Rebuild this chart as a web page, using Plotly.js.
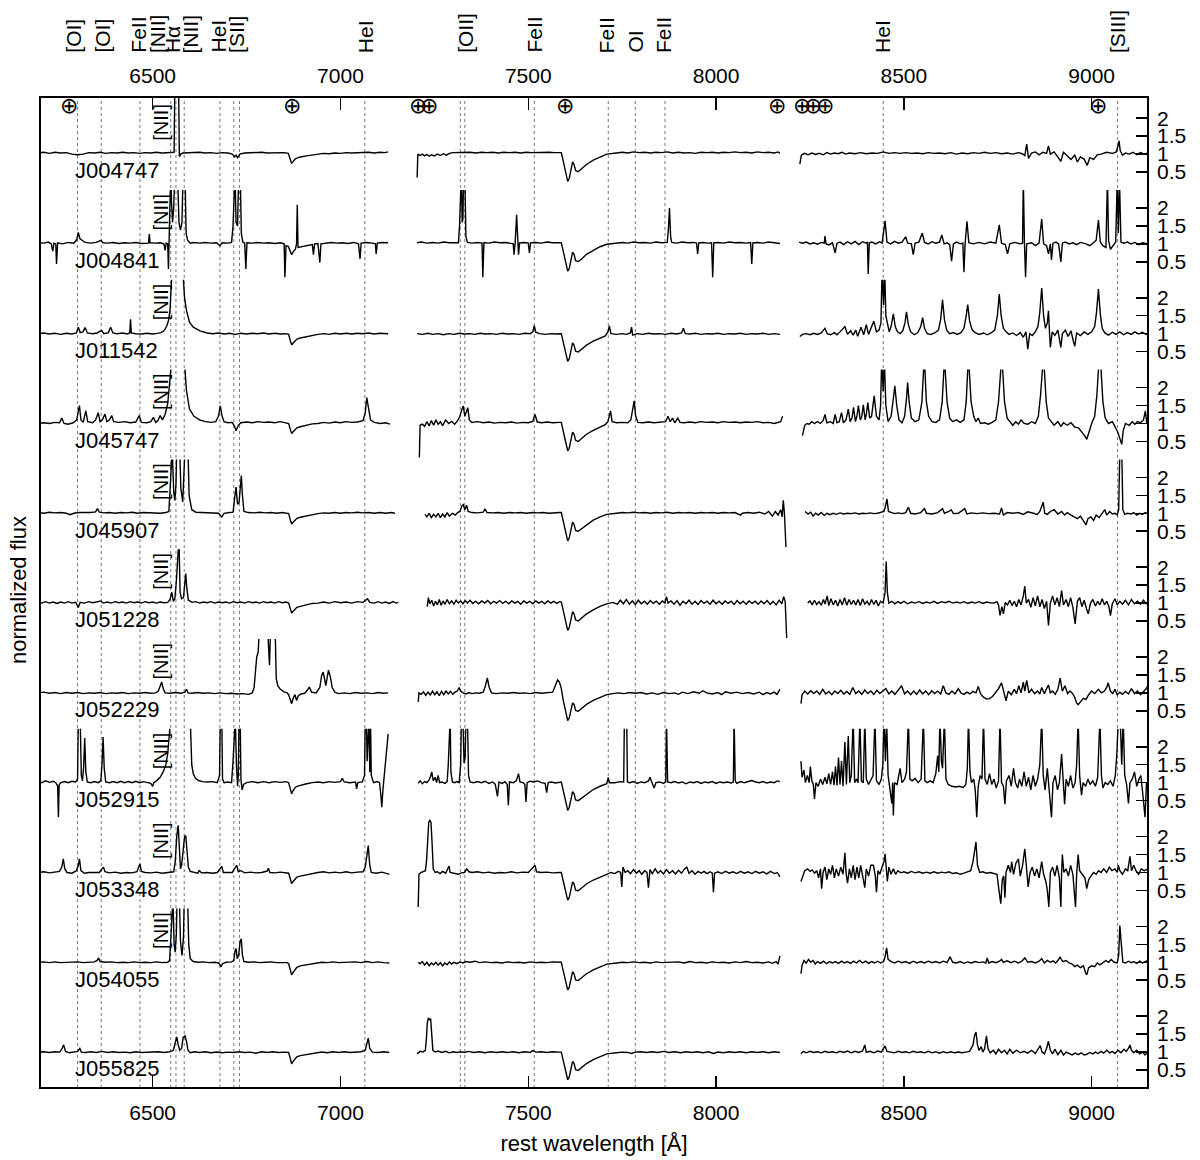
<!DOCTYPE html>
<html>
<head>
<meta charset="utf-8">
<script src="https://cdn.plot.ly/plotly-3.0.1.min.js"></script>
<style>html,body{margin:0;padding:0;background:#fff;}#chart{width:1200px;height:1160px;}</style>
</head>
<body>
<div id="chart"></div>
<script>
// ---------------- DATA ----------------
const names = ['J004747','J004841','J011542','J045747','J045907','J051228','J052229','J052915','J053348','J054055','J055825'];
const hasNII = [true,true,true,true,true,true,true,true,true,true,false];
const rightTicks = [0.5, 1, 1.5, 2];
const rightTickText = ['0.5','1','1.5','2'];
const xTicks = [6500, 7000, 7500, 8000, 8500, 9000];
const dottedWave = [6300, 6363, 6466, 6548, 6562, 6584, 6679, 6716, 6731, 7065, 7319, 7331, 7516, 7713, 7785, 7864, 8445, 9069];
const lineLabelText = ['[OI]','[OI]','FeII','[NII]','Hα','[NII]','HeI','[SII]','HeI','[OII]','FeII','FeII','OI','FeII','HeI','[SIII]'];
const lineLabelWave = [6287, 6364, 6460, 6513, 6553, 6602, 6674, 6723, 7067, 7331, 7514, 7708, 7783, 7859, 8443, 9069];
const telluricWave = [6278, 6870, 7207, 7236, 7598, 8161, 8228, 8259, 8290, 9018];

// J004747
const J004747_blue = [[6195,1.03],[6210,1.05],[6225,1.02],[6240,1.05],[6255,1.03],[6270,1.04],[6285,1.0],[6300,0.98],[6315,1.0],[6330,1.04],[6345,1.03],[6360,1.05],[6375,1.02],[6390,1.04],[6405,1.03],[6420,1.05],[6435,1.03],[6450,1.04],[6465,1.02],[6480,1.04],[6495,1.03],[6510,1.05],[6525,1.03],[6540,1.04],[6552,1.03],[6557,1.05],[6559,2.9],[6569,2.9],[6571,0.93],[6575,1.0],[6580,1.03],[6595,1.04],[6610,1.03],[6625,1.05],[6640,1.03],[6655,1.04],[6670,1.02],[6685,1.04],[6700,1.03],[6712,1.0],[6718,0.92],[6722,0.97],[6726,0.9],[6732,1.0],[6745,1.03],[6760,1.04],[6775,1.03],[6790,1.05],[6805,1.03],[6820,1.04],[6835,1.03],[6850,1.04],[6861,1.02],[6866,0.86],[6870,0.74],[6874,0.79],[6879,0.86],[6884,0.89],[6893,0.92],[6910,0.95],[6925,0.98],[6940,1.0],[6955,1.02],[6970,1.01],[6985,1.03],[7000,1.02],[7015,1.04],[7030,1.03],[7045,1.04],[7060,1.03],[7075,1.05],[7090,1.03],[7105,1.05],[7118,1.04],[7127,1.06]];
const J004747_mid = [[7204,0.35],[7206,1.0],[7212,0.96],[7218,1.0],[7224,0.95],[7230,0.99],[7236,0.94],[7242,0.98],[7250,0.95],[7258,1.0],[7266,0.96],[7274,1.01],[7282,0.97],[7290,1.02],[7300,1.04],[7315,1.05],[7330,1.04],[7345,1.05],[7360,1.03],[7375,1.05],[7390,1.04],[7405,1.05],[7420,1.03],[7435,1.05],[7450,1.04],[7465,1.05],[7480,1.03],[7495,1.05],[7510,1.04],[7525,1.05],[7540,1.04],[7555,1.05],[7570,1.04],[7584,1.05],[7588,1.04],[7593,0.81],[7598,0.57],[7602,0.32],[7605,0.24],[7609,0.32],[7613,0.57],[7618,0.78],[7622,0.71],[7626,0.54],[7633,0.51],[7642,0.59],[7655,0.71],[7673,0.83],[7691,0.92],[7709,1.0],[7735,1.03],[7750,1.05],[7765,1.03],[7780,1.06],[7795,1.04],[7810,1.05],[7825,1.03],[7840,1.05],[7855,1.04],[7870,1.06],[7885,1.03],[7900,1.05],[7915,1.03],[7930,1.04],[7945,1.02],[7960,1.05],[7975,1.04],[7990,1.05],[8005,1.03],[8020,1.05],[8035,1.04],[8050,1.06],[8065,1.04],[8080,1.05],[8095,1.03],[8110,1.06],[8125,1.04],[8140,1.05],[8155,1.03],[8165,1.06],[8170,1.02]];
const J004747_red = [[8223,0.72],[8227,0.97],[8235,1.02],[8245,0.98],[8255,1.03],[8265,0.99],[8275,1.02],[8285,0.98],[8295,1.04],[8305,1.0],[8315,1.03],[8325,1.01],[8335,1.05],[8345,1.0],[8355,1.03],[8370,1.01],[8385,1.04],[8400,1.01],[8415,1.03],[8430,1.02],[8445,1.06],[8460,1.02],[8475,1.04],[8490,1.02],[8505,1.04],[8520,1.02],[8535,1.03],[8550,1.01],[8565,1.04],[8580,1.02],[8595,1.03],[8610,1.01],[8625,1.04],[8640,1.0],[8655,1.03],[8670,1.01],[8685,1.04],[8700,1.02],[8715,1.05],[8730,1.02],[8745,1.04],[8760,1.01],[8775,1.03],[8790,1.0],[8805,1.04],[8815,1.01],[8822,0.96],[8827,1.28],[8832,0.88],[8840,1.03],[8850,1.06],[8860,0.98],[8870,1.05],[8880,1.02],[8885,1.23],[8890,1.0],[8900,1.06],[8908,0.95],[8918,0.8],[8925,1.05],[8935,0.96],[8945,0.85],[8955,0.97],[8962,0.78],[8970,0.92],[8980,0.86],[8988,0.68],[8995,0.9],[9005,0.85],[9015,0.98],[9025,1.0],[9040,1.05],[9055,1.02],[9065,1.05],[9070,1.22],[9073,1.37],[9076,1.1],[9082,0.97],[9090,1.03],[9100,1.0],[9110,1.05],[9120,0.98],[9130,1.04],[9140,1.0],[9150,1.03]];

// J004841
const J004841_blue = [[6195,1.04],[6210,1.02],[6222,1.05],[6230,1.0],[6234,0.8],[6237,1.02],[6242,1.0],[6244,0.44],[6247,1.03],[6260,1.0],[6275,1.04],[6290,1.02],[6298,1.12],[6302,1.32],[6306,1.15],[6312,1.1],[6320,1.04],[6335,1.02],[6350,1.04],[6362,1.1],[6368,1.03],[6380,1.02],[6395,1.04],[6410,1.01],[6425,1.03],[6440,1.02],[6455,1.04],[6470,1.01],[6485,1.03],[6489,1.02],[6491,1.27],[6493,1.03],[6505,1.02],[6520,1.03],[6530,1.0],[6533,0.82],[6536,1.02],[6540,1.0],[6542,0.3],[6544,1.1],[6546,1.6],[6548,3.0],[6550,2.2],[6553,1.6],[6556,2.0],[6559,3.0],[6566,3.0],[6570,1.6],[6574,1.38],[6578,1.6],[6581,3.0],[6586,3.0],[6589,1.3],[6593,1.1],[6600,1.02],[6610,1.04],[6625,1.02],[6640,1.04],[6655,1.02],[6670,1.03],[6679,0.95],[6685,1.03],[6700,1.02],[6710,1.04],[6714,1.5],[6716,3.0],[6719,3.0],[6722,1.6],[6726,1.5],[6729,3.0],[6733,3.0],[6736,1.3],[6740,1.05],[6745,1.02],[6748,0.3],[6751,1.03],[6765,1.02],[6780,1.04],[6795,1.02],[6810,1.03],[6825,1.01],[6840,1.03],[6850,1.0],[6852,0.07],[6855,0.95],[6861,0.93],[6866,0.8],[6870,0.7],[6874,0.78],[6880,0.85],[6883,1.0],[6885,2.09],[6887,0.9],[6895,0.92],[6910,0.96],[6925,0.98],[6928,0.7],[6931,1.0],[6940,1.01],[6945,0.48],[6948,1.0],[6960,1.02],[6975,1.04],[6990,1.02],[7005,1.03],[7020,1.01],[7035,1.04],[7048,1.0],[7052,0.58],[7055,1.02],[7070,1.04],[7085,1.02],[7093,1.0],[7095,0.72],[7098,1.02],[7110,1.04],[7127,1.03]];
const J004841_mid = [[7204,1.03],[7215,1.05],[7230,1.02],[7245,1.04],[7260,1.02],[7275,1.05],[7290,1.03],[7305,1.04],[7314,1.03],[7317,1.5],[7319,3.0],[7322,3.0],[7324,1.6],[7326,1.7],[7328,3.0],[7331,3.0],[7334,1.2],[7338,1.04],[7350,1.02],[7365,1.04],[7377,1.02],[7379,0.07],[7382,1.04],[7395,1.02],[7410,1.05],[7425,1.03],[7440,1.04],[7455,1.02],[7460,1.0],[7462,0.7],[7465,1.02],[7469,1.81],[7472,1.0],[7474,0.7],[7477,1.03],[7490,1.04],[7500,1.02],[7503,0.75],[7506,1.03],[7520,1.04],[7535,1.02],[7550,1.05],[7565,1.03],[7584,1.04],[7588,1.03],[7593,0.8],[7598,0.56],[7602,0.31],[7605,0.24],[7609,0.31],[7613,0.56],[7618,0.77],[7622,0.71],[7626,0.53],[7633,0.51],[7642,0.58],[7655,0.71],[7673,0.82],[7691,0.92],[7709,0.99],[7735,1.02],[7750,1.04],[7765,1.02],[7780,1.05],[7795,1.03],[7810,1.04],[7825,1.02],[7840,1.05],[7855,1.03],[7870,1.04],[7873,1.4],[7876,2.0],[7879,1.2],[7882,1.04],[7895,1.02],[7910,1.05],[7925,1.03],[7940,1.04],[7948,1.02],[7951,0.72],[7954,1.03],[7965,1.04],[7980,1.02],[7988,1.03],[7991,0.07],[7994,1.03],[8005,1.04],[8020,1.02],[8035,1.05],[8050,1.03],[8065,1.04],[8080,1.02],[8092,1.04],[8095,0.44],[8098,1.03],[8110,1.04],[8125,1.02],[8140,1.05],[8155,1.03],[8170,1.01]];
const J004841_red = [[8221,1.05],[8230,1.02],[8240,1.05],[8250,1.0],[8260,1.03],[8270,0.99],[8280,1.04],[8288,1.02],[8290,1.22],[8293,1.0],[8300,0.97],[8310,1.03],[8317,0.75],[8322,1.02],[8330,1.05],[8340,0.98],[8350,1.06],[8360,1.0],[8370,1.07],[8380,0.98],[8390,1.06],[8400,1.02],[8403,1.05],[8405,0.16],[8408,1.03],[8415,1.05],[8425,1.0],[8435,1.06],[8442,1.02],[8450,1.64],[8455,1.05],[8465,1.0],[8475,1.07],[8485,1.02],[8495,1.05],[8505,1.2],[8510,1.02],[8520,1.0],[8525,0.7],[8530,1.02],[8540,1.05],[8549,1.3],[8555,1.04],[8565,1.0],[8575,1.06],[8585,1.02],[8595,1.05],[8601,1.25],[8607,1.0],[8615,1.03],[8622,0.98],[8627,0.52],[8632,1.0],[8640,1.05],[8650,1.0],[8657,1.02],[8660,0.21],[8663,1.0],[8668,1.63],[8673,1.03],[8685,1.0],[8700,1.04],[8715,1.0],[8730,1.05],[8745,1.02],[8754,1.53],[8760,1.02],[8770,0.98],[8776,0.72],[8782,1.0],[8795,1.04],[8810,1.0],[8816,1.02],[8818,2.8],[8821,1.05],[8824,0.07],[8827,1.0],[8840,1.03],[8850,0.95],[8860,1.02],[8867,1.69],[8872,1.0],[8880,0.95],[8885,0.72],[8890,1.0],[8893,0.55],[8897,1.02],[8905,1.05],[8912,1.0],[8918,0.5],[8922,1.02],[8930,1.05],[8940,1.0],[8950,1.03],[8960,0.98],[8970,1.04],[8985,1.0],[8995,0.95],[9005,1.03],[9012,1.1],[9018,1.66],[9023,1.05],[9030,0.95],[9038,0.9],[9042,2.8],[9045,1.1],[9050,0.85],[9058,0.95],[9064,1.05],[9068,2.8],[9071,1.3],[9074,2.8],[9078,1.05],[9085,1.02],[9095,1.05],[9105,1.0],[9115,1.04],[9125,0.98],[9135,1.03],[9150,1.0]];

// J011542
const J011542_blue = [[6195,1.0],[6210,1.02],[6225,0.99],[6240,1.01],[6255,0.98],[6270,1.01],[6285,0.99],[6297,1.02],[6302,1.18],[6307,1.03],[6314,1.05],[6320,1.17],[6326,1.02],[6340,1.0],[6352,1.02],[6364,1.09],[6370,1.0],[6382,1.03],[6388,1.18],[6394,1.02],[6405,1.0],[6420,1.02],[6432,0.99],[6439,1.02],[6441,1.4],[6443,1.02],[6455,1.0],[6470,0.99],[6485,1.01],[6500,0.99],[6512,1.01],[6522,1.03],[6530,1.08],[6537,1.2],[6542,1.36],[6546,1.64],[6550,2.47],[6552,2.8],[6580,2.8],[6582,2.53],[6585,1.98],[6590,1.64],[6598,1.32],[6608,1.18],[6626,1.08],[6645,1.02],[6660,1.0],[6675,1.02],[6690,0.99],[6705,1.01],[6720,0.98],[6735,1.01],[6750,0.99],[6765,1.01],[6780,1.0],[6795,1.02],[6810,0.99],[6825,1.01],[6840,0.99],[6855,1.0],[6862,0.98],[6866,0.82],[6870,0.69],[6874,0.74],[6879,0.81],[6884,0.85],[6893,0.88],[6910,0.92],[6925,0.96],[6940,0.98],[6955,1.0],[6970,0.98],[6985,1.01],[7000,0.99],[7015,1.01],[7030,0.99],[7045,1.01],[7060,1.0],[7075,1.02],[7090,0.99],[7105,1.01],[7127,1.0]];
const J011542_mid = [[7204,1.0],[7218,0.98],[7232,1.01],[7246,0.98],[7260,1.0],[7274,0.97],[7288,1.0],[7302,0.98],[7316,1.01],[7330,0.99],[7344,1.0],[7358,0.98],[7372,1.01],[7386,0.99],[7400,1.0],[7415,0.98],[7430,1.01],[7445,0.99],[7460,1.0],[7475,0.98],[7490,1.01],[7505,1.0],[7512,1.05],[7516,1.22],[7520,1.04],[7530,1.0],[7545,0.98],[7560,1.0],[7575,0.99],[7584,1.0],[7588,1.0],[7593,0.77],[7598,0.54],[7602,0.3],[7605,0.23],[7609,0.3],[7613,0.54],[7618,0.74],[7622,0.68],[7626,0.51],[7633,0.49],[7642,0.56],[7655,0.68],[7673,0.79],[7691,0.88],[7705,0.94],[7712,1.05],[7716,1.22],[7720,1.0],[7735,0.98],[7750,1.0],[7762,0.98],[7772,1.02],[7775,1.18],[7778,0.96],[7790,1.0],[7805,0.98],[7820,1.01],[7835,0.99],[7850,1.0],[7865,0.98],[7880,1.01],[7895,0.99],[7908,1.02],[7913,1.15],[7918,1.0],[7930,0.99],[7945,1.01],[7960,0.98],[7975,1.0],[7990,0.99],[8005,1.01],[8020,0.98],[8035,1.0],[8050,0.99],[8065,1.01],[8080,0.98],[8095,1.0],[8110,0.99],[8125,1.01],[8140,0.98],[8155,1.0],[8170,0.98]];
const J011542_red = [[8223,0.92],[8230,0.98],[8240,1.0],[8250,0.97],[8260,1.01],[8270,0.98],[8280,1.02],[8290,1.15],[8296,1.0],[8305,0.97],[8315,1.03],[8322,0.97],[8330,1.05],[8343,1.2],[8350,0.98],[8358,1.08],[8365,0.96],[8372,1.1],[8377,0.93],[8386,1.18],[8393,0.97],[8400,1.25],[8406,0.98],[8413,1.15],[8420,1.35],[8427,1.05],[8434,1.1],[8439,1.3],[8442,2.8],[8446,1.8],[8449,2.8],[8452,1.5],[8457,1.2],[8461,1.05],[8466,1.2],[8472,1.55],[8477,1.2],[8483,1.05],[8490,1.0],[8497,1.08],[8503,1.3],[8507,1.61],[8512,1.25],[8518,1.05],[8528,0.97],[8537,1.03],[8545,1.2],[8550,1.45],[8555,1.15],[8562,1.0],[8572,0.98],[8582,1.02],[8592,1.1],[8598,1.4],[8603,1.94],[8608,1.4],[8614,1.1],[8622,1.0],[8632,1.03],[8642,0.98],[8652,1.03],[8660,1.15],[8666,1.5],[8670,1.81],[8675,1.35],[8682,1.1],[8690,1.03],[8700,0.98],[8712,1.02],[8722,0.97],[8732,1.02],[8742,1.1],[8749,1.5],[8754,2.1],[8759,1.5],[8765,1.15],[8772,1.05],[8780,0.98],[8790,1.02],[8800,0.95],[8810,1.03],[8818,0.9],[8825,1.05],[8830,0.57],[8835,1.0],[8842,0.95],[8850,1.05],[8857,1.2],[8862,1.6],[8867,2.27],[8872,1.5],[8877,1.15],[8882,1.3],[8885,1.64],[8888,1.0],[8890,0.62],[8895,1.05],[8902,0.95],[8910,1.1],[8915,0.85],[8918,0.62],[8922,1.0],[8930,1.1],[8937,0.92],[8945,1.08],[8951,0.8],[8955,0.65],[8960,1.02],[8970,0.95],[8980,1.05],[8990,0.98],[9000,1.05],[9008,1.2],[9013,1.6],[9018,2.24],[9023,1.55],[9028,1.15],[9035,1.02],[9045,0.96],[9055,1.04],[9065,0.98],[9075,1.05],[9085,0.97],[9095,1.03],[9105,0.98],[9115,1.05],[9125,0.99],[9135,1.04],[9145,0.98],[9150,1.02]];

// J045747
const J045747_blue = [[6195,1.0],[6210,1.02],[6225,1.0],[6240,1.03],[6252,1.02],[6258,1.15],[6264,1.0],[6275,0.98],[6288,1.02],[6298,1.1],[6302,1.35],[6305,1.5],[6309,1.1],[6315,1.03],[6322,1.35],[6327,1.05],[6340,1.02],[6348,1.1],[6355,1.3],[6360,1.05],[6366,1.1],[6373,1.26],[6378,1.05],[6385,1.1],[6391,1.22],[6396,1.05],[6410,1.03],[6425,1.05],[6440,1.02],[6455,1.04],[6464,1.22],[6470,1.03],[6485,1.02],[6495,1.05],[6502,1.17],[6508,1.03],[6514,1.08],[6520,1.22],[6526,1.1],[6533,1.25],[6540,1.55],[6545,2.0],[6549,2.53],[6551,2.8],[6584,2.8],[6586,2.53],[6590,1.91],[6598,1.4],[6610,1.2],[6625,1.1],[6640,1.05],[6655,1.03],[6668,1.05],[6675,1.2],[6680,1.49],[6685,1.2],[6690,1.05],[6700,1.02],[6712,1.03],[6718,0.92],[6722,0.8],[6728,0.95],[6735,1.02],[6750,1.04],[6765,1.02],[6780,1.05],[6795,1.03],[6810,1.04],[6825,1.02],[6840,1.05],[6855,1.03],[6862,1.0],[6866,0.85],[6870,0.72],[6874,0.77],[6879,0.84],[6884,0.88],[6893,0.91],[6910,0.95],[6925,0.99],[6940,1.0],[6955,1.03],[6970,1.01],[6985,1.04],[7000,1.02],[7015,1.05],[7030,1.03],[7045,1.04],[7060,1.08],[7066,1.3],[7070,1.72],[7074,1.45],[7080,1.1],[7090,1.03],[7105,1.0],[7120,1.02],[7132,0.98]];
const J045747_mid = [[7210,0.05],[7212,0.95],[7218,0.98],[7224,0.92],[7230,1.05],[7236,0.93],[7242,1.08],[7248,0.95],[7254,1.1],[7260,0.98],[7266,1.05],[7272,0.94],[7280,1.1],[7288,1.0],[7296,1.06],[7304,0.98],[7312,1.08],[7318,1.2],[7323,1.38],[7327,1.49],[7331,1.2],[7335,1.3],[7339,1.44],[7343,1.1],[7350,1.03],[7365,1.05],[7380,1.02],[7395,1.04],[7410,1.01],[7425,1.03],[7440,1.02],[7455,1.04],[7470,1.01],[7485,1.03],[7500,1.02],[7512,1.06],[7518,1.25],[7524,1.04],[7535,1.02],[7550,1.04],[7565,1.02],[7584,1.03],[7588,1.03],[7593,0.79],[7598,0.56],[7602,0.31],[7605,0.24],[7609,0.31],[7613,0.56],[7618,0.76],[7622,0.7],[7626,0.53],[7633,0.5],[7642,0.58],[7655,0.7],[7673,0.81],[7691,0.91],[7705,0.97],[7712,1.05],[7716,1.2],[7719,1.35],[7723,1.05],[7735,1.02],[7750,1.03],[7765,1.02],[7773,1.1],[7778,1.35],[7782,1.63],[7786,1.2],[7792,1.03],[7805,1.02],[7820,1.04],[7835,1.02],[7850,1.04],[7866,1.05],[7872,1.2],[7878,1.05],[7884,1.15],[7890,1.02],[7898,1.15],[7904,1.03],[7915,1.02],[7930,1.04],[7945,1.02],[7960,1.05],[7975,1.03],[7990,1.04],[8005,1.02],[8020,1.05],[8035,1.03],[8050,1.04],[8065,1.02],[8080,1.04],[8095,1.03],[8110,1.05],[8125,1.02],[8140,1.03],[8155,1.0],[8165,1.02],[8172,1.05],[8177,1.2]];
const J045747_red = [[8230,0.66],[8236,0.95],[8242,1.0],[8248,0.98],[8255,1.05],[8262,1.0],[8270,1.05],[8278,1.0],[8285,1.08],[8290,1.25],[8295,1.02],[8305,1.05],[8312,1.0],[8317,1.25],[8322,1.02],[8328,1.05],[8334,1.3],[8339,1.02],[8346,1.1],[8352,1.4],[8357,1.05],[8362,1.15],[8366,1.45],[8371,1.05],[8375,1.2],[8379,1.5],[8384,1.1],[8388,1.2],[8392,1.52],[8397,1.1],[8400,1.25],[8404,1.58],[8409,1.15],[8414,1.2],[8421,1.77],[8427,1.2],[8434,1.1],[8438,1.5],[8441,2.8],[8445,1.9],[8448,2.8],[8452,1.5],[8458,1.05],[8466,1.2],[8472,1.7],[8476,2.05],[8481,1.5],[8487,1.1],[8495,1.02],[8502,1.2],[8507,1.7],[8510,2.14],[8514,1.6],[8520,1.15],[8530,1.05],[8540,1.1],[8548,1.6],[8552,2.5],[8554,2.8],[8556,2.5],[8560,1.6],[8566,1.2],[8575,1.05],[8585,1.03],[8595,1.1],[8602,1.6],[8606,2.5],[8608,2.8],[8610,2.5],[8615,1.6],[8622,1.15],[8630,1.05],[8640,1.1],[8650,1.03],[8660,1.1],[8666,1.6],[8670,2.5],[8672,2.8],[8674,2.5],[8679,1.6],[8686,1.2],[8692,1.05],[8698,1.15],[8704,1.0],[8715,1.02],[8725,0.98],[8735,1.03],[8745,1.1],[8752,1.6],[8757,2.5],[8760,2.8],[8763,2.5],[8768,1.6],[8775,1.15],[8782,1.05],[8790,0.95],[8798,1.05],[8805,0.98],[8812,1.1],[8820,1.0],[8830,0.98],[8840,1.05],[8850,1.0],[8858,1.2],[8864,1.8],[8868,2.5],[8871,2.8],[8874,2.5],[8879,1.6],[8885,1.15],[8892,1.05],[8900,0.95],[8910,1.05],[8918,0.92],[8925,1.02],[8935,0.95],[8945,1.02],[8955,0.9],[8965,0.88],[8975,0.75],[8982,0.65],[8987,0.56],[8993,0.8],[9000,1.0],[9008,1.2],[9014,1.8],[9018,2.5],[9022,2.8],[9025,2.5],[9030,1.6],[9036,1.15],[9045,1.0],[9055,1.05],[9062,0.9],[9070,0.75],[9076,0.55],[9080,0.42],[9084,0.8],[9090,1.0],[9100,0.95],[9108,1.05],[9115,0.98],[9122,1.05],[9130,1.02],[9138,1.1],[9143,1.35],[9147,1.0],[9150,1.05]];

// J045907
const J045907_blue = [[6195,1.02],[6210,1.0],[6225,1.03],[6240,1.01],[6255,1.02],[6270,1.0],[6280,0.96],[6290,1.0],[6305,1.02],[6320,1.01],[6335,1.02],[6348,1.04],[6353,1.13],[6358,1.03],[6370,1.01],[6385,1.02],[6400,1.0],[6415,1.02],[6430,1.01],[6445,1.03],[6460,1.0],[6475,1.02],[6490,1.01],[6505,1.02],[6520,1.0],[6535,1.02],[6543,1.05],[6546,1.6],[6548,2.8],[6552,2.8],[6556,1.6],[6559,1.36],[6562,1.8],[6564,2.8],[6572,2.8],[6575,1.7],[6580,1.32],[6584,2.0],[6586,2.8],[6594,2.8],[6597,1.5],[6604,1.1],[6615,1.03],[6630,1.02],[6645,1.01],[6660,1.02],[6675,1.0],[6684,0.9],[6690,1.0],[6705,1.02],[6714,1.03],[6718,1.4],[6722,1.73],[6726,1.25],[6730,1.3],[6734,1.8],[6736,2.05],[6739,1.5],[6743,1.05],[6755,1.02],[6770,1.01],[6785,1.03],[6800,1.01],[6815,1.02],[6830,1.0],[6845,1.02],[6858,1.01],[6862,0.99],[6866,0.83],[6870,0.7],[6874,0.75],[6879,0.82],[6884,0.86],[6893,0.89],[6910,0.93],[6925,0.97],[6940,0.99],[6955,1.01],[6970,1.0],[6985,1.02],[7000,1.0],[7015,1.02],[7030,1.01],[7045,1.03],[7060,1.01],[7075,1.02],[7090,1.0],[7105,1.02],[7120,1.0],[7135,1.02],[7145,1.0]];
const J045907_mid = [[7225,0.97],[7230,0.9],[7236,1.0],[7242,0.88],[7248,0.97],[7254,0.9],[7260,1.0],[7266,0.88],[7272,0.98],[7278,0.9],[7284,1.02],[7290,0.92],[7298,1.0],[7306,0.95],[7312,1.02],[7318,1.05],[7323,1.2],[7327,1.24],[7331,1.1],[7336,1.22],[7340,1.05],[7350,1.02],[7365,1.01],[7380,1.03],[7385,1.12],[7390,1.02],[7405,1.01],[7420,1.02],[7435,1.0],[7450,1.02],[7465,1.01],[7480,1.02],[7495,1.0],[7510,1.02],[7525,1.01],[7540,1.02],[7555,1.0],[7570,1.02],[7584,1.02],[7588,1.02],[7593,0.79],[7598,0.55],[7602,0.31],[7605,0.23],[7609,0.31],[7613,0.55],[7618,0.75],[7622,0.69],[7626,0.52],[7633,0.5],[7642,0.57],[7655,0.69],[7673,0.81],[7691,0.9],[7709,0.97],[7735,1.0],[7750,1.02],[7765,1.01],[7780,1.03],[7795,1.01],[7810,1.02],[7825,1.0],[7840,1.02],[7855,1.01],[7870,1.03],[7885,1.0],[7900,1.02],[7915,1.01],[7930,1.02],[7945,1.0],[7960,1.02],[7975,1.01],[7990,1.02],[8005,1.0],[8020,1.02],[8035,1.01],[8050,1.02],[8065,0.95],[8070,1.0],[8085,1.02],[8100,1.0],[8115,1.03],[8130,0.98],[8140,1.05],[8150,0.92],[8158,1.05],[8165,0.95],[8172,1.1],[8176,0.9],[8179,1.36],[8182,1.0],[8186,0.06]];
const J045907_red = [[8237,1.05],[8245,0.98],[8252,1.03],[8258,0.92],[8265,1.0],[8272,0.95],[8280,1.02],[8288,0.94],[8295,1.0],[8303,0.96],[8312,1.0],[8320,0.97],[8330,1.01],[8340,0.98],[8350,1.0],[8360,0.99],[8370,1.01],[8380,0.98],[8390,1.0],[8400,0.99],[8410,1.01],[8420,0.99],[8430,1.0],[8440,1.02],[8447,1.05],[8451,1.2],[8455,1.4],[8459,1.05],[8465,1.02],[8475,0.99],[8485,1.01],[8495,0.99],[8505,1.02],[8512,1.17],[8518,1.0],[8530,0.98],[8545,1.02],[8555,1.13],[8560,1.0],[8575,0.98],[8590,1.02],[8603,1.13],[8608,1.0],[8620,1.05],[8626,1.1],[8632,0.99],[8645,1.0],[8662,1.13],[8668,0.98],[8680,1.01],[8695,0.99],[8710,1.01],[8725,0.99],[8740,1.0],[8755,0.98],[8760,1.15],[8765,0.95],[8775,1.02],[8790,1.0],[8805,1.02],[8818,0.97],[8830,1.04],[8845,1.0],[8855,0.97],[8862,1.05],[8868,1.2],[8871,1.31],[8875,1.0],[8882,0.97],[8890,1.05],[8900,1.1],[8910,0.98],[8920,1.05],[8928,0.95],[8935,1.02],[8945,0.95],[8955,0.9],[8962,0.85],[8970,0.92],[8978,0.8],[8985,0.68],[8990,0.85],[8998,0.9],[9005,0.8],[9012,0.95],[9020,0.88],[9028,1.0],[9035,1.1],[9040,0.95],[9048,1.05],[9055,0.98],[9062,1.0],[9068,0.95],[9072,1.1],[9075,2.8],[9080,2.8],[9083,1.1],[9088,0.97],[9095,1.0],[9105,0.98],[9112,1.02],[9120,0.95],[9128,1.0],[9135,0.97],[9143,1.02],[9150,0.98]];

// J051228
const J051228_blue = [[6195,1.02],[6205,1.0],[6215,1.04],[6225,1.0],[6235,1.03],[6245,0.99],[6255,1.03],[6265,1.0],[6275,1.04],[6285,1.0],[6295,1.02],[6302,0.88],[6307,1.02],[6318,1.0],[6330,1.04],[6340,1.01],[6350,1.03],[6362,1.06],[6368,1.0],[6380,1.03],[6390,1.0],[6400,1.04],[6410,1.01],[6420,1.03],[6430,1.0],[6440,1.04],[6450,1.01],[6460,1.03],[6470,1.0],[6480,1.04],[6490,1.01],[6500,1.03],[6510,1.0],[6520,1.03],[6530,1.01],[6540,1.02],[6546,1.1],[6551,1.3],[6555,1.05],[6559,1.12],[6563,1.6],[6566,2.8],[6570,2.8],[6573,1.3],[6577,1.12],[6582,1.15],[6586,1.6],[6588,1.82],[6591,1.4],[6595,1.08],[6605,1.02],[6615,1.04],[6625,1.0],[6635,1.03],[6645,1.01],[6655,1.04],[6665,1.0],[6675,1.03],[6685,1.01],[6695,1.03],[6705,1.0],[6715,1.04],[6725,1.01],[6735,1.03],[6745,1.0],[6755,1.04],[6765,1.01],[6775,1.03],[6785,1.0],[6795,1.04],[6805,1.01],[6815,1.03],[6825,1.0],[6835,1.04],[6845,1.01],[6855,1.03],[6862,1.0],[6866,0.85],[6870,0.72],[6874,0.77],[6879,0.84],[6884,0.88],[6893,0.91],[6910,0.95],[6925,0.99],[6940,1.0],[6955,1.03],[6970,1.0],[6985,1.04],[7000,1.01],[7015,1.03],[7030,1.0],[7045,1.04],[7060,1.02],[7068,1.08],[7072,1.12],[7078,1.02],[7090,1.0],[7100,1.04],[7110,1.0],[7120,1.03],[7130,0.99],[7140,1.04],[7148,1.0],[7154,1.02]];
const J051228_mid = [[7231,0.9],[7234,1.15],[7238,0.98],[7243,1.08],[7248,0.92],[7253,1.05],[7258,0.95],[7263,1.1],[7268,0.94],[7273,1.06],[7278,0.96],[7284,1.1],[7290,0.98],[7296,1.06],[7302,0.97],[7308,1.08],[7314,1.0],[7320,1.06],[7326,0.98],[7332,1.07],[7338,1.0],[7345,1.08],[7352,0.99],[7360,1.05],[7368,0.98],[7376,1.06],[7384,1.0],[7392,1.07],[7400,0.98],[7408,1.05],[7416,1.0],[7424,1.07],[7432,0.99],[7440,1.05],[7448,0.98],[7456,1.06],[7464,1.0],[7472,1.05],[7480,0.97],[7488,1.06],[7496,1.0],[7504,1.05],[7512,0.98],[7520,1.06],[7528,1.0],[7536,1.05],[7544,0.98],[7552,1.06],[7560,1.0],[7568,1.05],[7576,0.99],[7584,1.04],[7588,1.03],[7593,0.79],[7598,0.56],[7602,0.31],[7605,0.24],[7609,0.31],[7613,0.56],[7618,0.76],[7622,0.7],[7626,0.53],[7633,0.5],[7642,0.58],[7655,0.7],[7673,0.81],[7691,0.91],[7709,0.98],[7725,1.02],[7737,0.97],[7745,1.08],[7753,0.98],[7761,1.1],[7769,0.97],[7777,1.06],[7785,0.96],[7793,1.08],[7801,0.98],[7809,1.05],[7817,0.97],[7825,1.07],[7833,0.99],[7841,1.05],[7849,0.97],[7857,1.06],[7864,1.0],[7868,1.18],[7872,1.0],[7880,1.06],[7888,0.97],[7896,1.07],[7904,0.94],[7912,1.05],[7920,0.98],[7928,1.08],[7936,0.97],[7944,1.05],[7952,0.96],[7960,1.07],[7968,0.99],[7976,1.05],[7984,0.97],[7992,1.08],[8000,0.98],[8008,1.05],[8016,0.97],[8024,1.06],[8032,0.99],[8040,1.05],[8048,0.96],[8056,1.07],[8064,0.98],[8072,1.05],[8080,0.97],[8088,1.06],[8096,0.99],[8104,1.05],[8112,0.97],[8120,1.06],[8128,0.98],[8136,1.07],[8144,0.96],[8152,1.05],[8160,0.95],[8168,1.08],[8175,0.98],[8180,1.18],[8184,1.05],[8188,0.03]];
const J051228_red = [[8244,1.0],[8250,1.06],[8256,0.95],[8262,1.08],[8268,0.96],[8274,1.04],[8280,0.94],[8286,1.1],[8290,0.97],[8296,1.2],[8300,0.93],[8306,1.12],[8312,0.95],[8318,1.08],[8324,0.92],[8330,1.1],[8336,0.95],[8342,1.15],[8348,0.94],[8354,1.1],[8360,0.96],[8366,1.08],[8372,0.95],[8378,1.1],[8384,0.93],[8390,1.12],[8396,0.97],[8402,1.05],[8408,0.94],[8414,1.1],[8420,0.96],[8426,1.08],[8432,0.92],[8438,1.05],[8445,1.0],[8450,1.3],[8453,2.16],[8456,1.3],[8460,1.0],[8468,1.05],[8476,0.98],[8484,1.04],[8492,0.99],[8500,1.05],[8510,0.98],[8520,1.03],[8530,1.0],[8540,1.04],[8550,0.99],[8560,1.03],[8570,1.0],[8580,1.05],[8590,0.99],[8600,1.04],[8610,1.01],[8620,1.05],[8630,1.0],[8640,1.03],[8650,1.0],[8660,1.04],[8670,0.99],[8680,1.03],[8690,1.0],[8700,1.04],[8710,0.99],[8720,1.03],[8730,1.01],[8740,1.0],[8748,1.04],[8752,0.95],[8756,0.66],[8761,0.9],[8765,0.7],[8770,1.02],[8776,0.95],[8782,1.08],[8788,0.93],[8794,1.05],[8800,0.9],[8806,1.1],[8812,0.95],[8818,1.2],[8822,1.47],[8826,1.0],[8832,1.1],[8838,0.88],[8844,1.15],[8850,0.92],[8856,1.2],[8862,0.9],[8868,1.1],[8874,0.85],[8880,1.05],[8885,0.38],[8890,1.0],[8896,1.2],[8902,0.95],[8908,1.15],[8914,0.9],[8920,1.35],[8925,0.95],[8932,1.1],[8938,0.9],[8944,1.15],[8950,0.88],[8956,0.42],[8962,1.05],[8968,1.15],[8974,0.9],[8980,1.08],[8986,0.85],[8991,0.7],[8997,1.0],[9003,1.1],[9010,0.92],[9016,1.05],[9022,0.95],[9028,1.12],[9034,0.95],[9040,1.05],[9046,0.9],[9050,0.65],[9055,0.98],[9062,1.12],[9068,0.95],[9075,1.05],[9082,0.97],[9090,1.08],[9098,0.95],[9106,1.1],[9114,0.98],[9122,1.05],[9130,0.97],[9138,1.08],[9145,0.98],[9150,1.03]];

// J052229
const J052229_blue = [[6195,1.0],[6210,1.02],[6225,0.99],[6240,1.01],[6255,0.98],[6270,1.01],[6285,0.99],[6300,1.01],[6315,0.98],[6330,1.0],[6345,0.99],[6360,1.01],[6375,0.98],[6390,1.0],[6405,0.99],[6420,1.01],[6435,0.98],[6450,1.0],[6465,0.99],[6480,1.01],[6495,0.99],[6508,1.0],[6515,1.05],[6520,1.22],[6524,1.3],[6528,1.12],[6533,1.0],[6545,0.99],[6560,1.01],[6575,0.99],[6586,1.02],[6590,1.1],[6594,1.0],[6605,0.99],[6620,1.01],[6635,0.99],[6650,1.0],[6665,0.98],[6680,1.0],[6695,0.98],[6710,0.99],[6725,0.97],[6740,0.98],[6755,0.96],[6765,1.0],[6770,1.15],[6773,1.6],[6777,2.0],[6781,2.14],[6784,2.8],[6806,2.8],[6809,1.95],[6811,1.77],[6814,2.8],[6826,2.8],[6829,1.4],[6833,1.2],[6840,1.1],[6850,1.03],[6858,1.0],[6862,0.95],[6866,0.82],[6870,0.7],[6874,0.85],[6879,0.95],[6883,0.79],[6888,0.92],[6895,0.97],[6905,0.99],[6912,1.08],[6917,1.16],[6923,1.02],[6935,1.0],[6945,1.15],[6950,1.49],[6954,1.58],[6958,1.35],[6961,1.2],[6965,1.45],[6968,1.63],[6973,1.45],[6978,1.15],[6985,1.02],[6995,0.98],[7010,1.0],[7025,0.98],[7040,1.01],[7055,0.99],[7070,1.0],[7085,0.98],[7100,1.01],[7115,0.99],[7127,1.0]];
const J052229_mid = [[7207,0.75],[7209,1.0],[7215,0.96],[7221,1.03],[7227,0.93],[7233,1.02],[7239,0.94],[7245,1.05],[7251,0.95],[7257,1.03],[7263,0.92],[7269,1.04],[7275,0.95],[7281,1.05],[7287,0.97],[7293,1.04],[7299,0.96],[7305,1.02],[7311,1.05],[7316,1.15],[7320,1.05],[7326,1.0],[7334,0.97],[7342,1.01],[7350,0.98],[7360,1.0],[7370,0.99],[7380,1.02],[7386,1.2],[7391,1.42],[7396,1.15],[7402,1.0],[7415,0.98],[7430,1.0],[7445,0.99],[7460,1.01],[7475,0.99],[7490,1.0],[7505,0.98],[7520,1.01],[7535,0.99],[7550,1.0],[7565,1.02],[7572,1.2],[7578,1.36],[7583,1.3],[7588,1.12],[7593,0.8],[7598,0.55],[7602,0.3],[7605,0.23],[7609,0.3],[7613,0.54],[7618,0.72],[7622,0.68],[7626,0.51],[7633,0.49],[7642,0.56],[7655,0.68],[7673,0.79],[7691,0.88],[7709,0.95],[7725,0.98],[7740,1.0],[7755,0.98],[7770,1.01],[7785,0.99],[7800,1.01],[7815,0.97],[7830,1.0],[7845,0.96],[7860,1.01],[7875,0.98],[7890,1.0],[7900,0.96],[7910,1.02],[7925,0.98],[7940,1.03],[7955,0.99],[7965,1.06],[7975,1.0],[7990,0.97],[8005,1.01],[8015,0.95],[8025,1.03],[8040,0.99],[8055,1.02],[8070,0.98],[8085,1.01],[8100,0.97],[8115,1.02],[8125,0.95],[8135,1.01],[8145,0.97],[8155,1.02],[8162,0.96],[8170,1.1]];
const J052229_red = [[8226,0.7],[8229,0.95],[8236,1.05],[8244,0.97],[8252,1.06],[8260,0.98],[8268,1.05],[8276,0.96],[8284,1.1],[8292,0.97],[8300,1.04],[8308,0.95],[8316,1.05],[8324,0.98],[8332,1.07],[8340,0.97],[8348,1.04],[8356,0.96],[8364,1.15],[8372,0.98],[8380,1.05],[8388,0.96],[8396,1.08],[8404,0.98],[8412,1.05],[8420,0.96],[8428,1.07],[8436,0.98],[8444,1.05],[8452,1.12],[8460,0.97],[8468,1.05],[8476,0.96],[8484,1.08],[8494,1.2],[8502,0.97],[8510,1.05],[8518,0.95],[8526,1.05],[8534,0.96],[8542,1.08],[8550,0.97],[8558,1.05],[8566,0.95],[8574,1.06],[8582,0.98],[8590,1.05],[8598,0.97],[8605,1.2],[8612,1.0],[8620,0.96],[8628,1.05],[8636,0.97],[8645,1.12],[8652,1.0],[8660,0.96],[8668,1.02],[8676,0.97],[8684,1.04],[8692,1.0],[8698,1.18],[8704,0.98],[8712,0.88],[8720,0.83],[8728,0.84],[8736,0.9],[8744,1.02],[8752,1.12],[8760,1.28],[8766,1.0],[8772,0.78],[8778,1.05],[8786,0.95],[8794,1.1],[8800,0.98],[8806,1.2],[8812,1.0],[8818,1.3],[8822,1.05],[8827,1.35],[8833,1.0],[8840,1.1],[8848,0.98],[8856,1.05],[8862,0.97],[8867,1.15],[8874,0.98],[8880,1.12],[8885,1.22],[8890,1.0],[8896,1.05],[8903,0.96],[8910,1.1],[8916,1.41],[8922,1.05],[8929,1.2],[8936,0.98],[8942,1.05],[8948,1.0],[8954,0.9],[8960,0.72],[8964,0.67],[8970,0.75],[8978,0.85],[8985,0.82],[8992,0.95],[9000,1.05],[9008,0.98],[9018,1.1],[9026,1.0],[9034,1.05],[9040,1.15],[9044,1.28],[9050,1.05],[9056,0.98],[9062,1.1],[9068,0.95],[9075,1.02],[9082,0.96],[9090,1.04],[9098,0.97],[9106,1.12],[9114,0.98],[9122,1.05],[9130,0.95],[9138,1.03],[9144,1.1],[9150,1.2]];

// J052915
const J052915_blue = [[6195,1.03],[6205,1.0],[6215,1.05],[6225,1.01],[6235,1.04],[6242,1.0],[6247,0.9],[6249,0.04],[6251,0.95],[6256,1.0],[6265,1.03],[6275,1.0],[6285,1.04],[6295,1.02],[6300,1.1],[6302,2.8],[6307,2.8],[6310,1.2],[6313,1.05],[6316,1.4],[6319,2.24],[6322,1.3],[6326,1.02],[6335,1.0],[6345,1.03],[6355,1.0],[6362,1.05],[6365,1.5],[6368,2.27],[6371,1.4],[6375,1.02],[6385,1.0],[6395,1.03],[6405,1.0],[6415,1.04],[6425,1.0],[6435,1.03],[6445,1.0],[6455,1.04],[6465,1.0],[6475,1.03],[6485,1.0],[6495,0.98],[6500,0.9],[6503,1.0],[6510,1.05],[6520,1.15],[6528,1.3],[6535,1.5],[6540,1.8],[6545,2.3],[6548,2.8],[6600,2.8],[6604,1.5],[6608,1.25],[6614,1.12],[6622,1.06],[6632,1.03],[6645,1.02],[6660,1.03],[6672,1.0],[6678,1.2],[6680,2.8],[6684,2.8],[6686,1.1],[6690,1.0],[6700,1.02],[6710,1.0],[6714,1.6],[6716,2.8],[6720,2.8],[6723,1.5],[6726,0.9],[6728,1.2],[6730,2.8],[6733,2.8],[6735,1.1],[6738,0.8],[6742,0.95],[6750,1.0],[6765,1.03],[6780,1.0],[6795,1.03],[6810,1.0],[6825,1.03],[6840,1.01],[6855,1.03],[6862,1.0],[6866,0.85],[6870,0.69],[6874,0.78],[6879,0.86],[6884,0.9],[6893,0.93],[6910,0.97],[6925,1.0],[6940,1.02],[6955,1.0],[6970,1.03],[6985,1.01],[7000,1.03],[7005,1.12],[7010,1.02],[7025,1.0],[7040,1.02],[7043,0.83],[7046,1.0],[7058,1.02],[7064,1.2],[7066,2.8],[7069,2.8],[7071,1.6],[7073,2.8],[7076,2.8],[7078,1.3],[7080,2.8],[7082,1.2],[7088,1.0],[7098,1.03],[7104,1.0],[7108,0.6],[7110,0.32],[7113,0.8],[7118,1.3],[7124,2.0],[7127,2.36]];
const J052915_mid = [[7207,0.98],[7212,1.05],[7218,0.97],[7224,1.03],[7230,1.0],[7236,1.08],[7240,1.18],[7243,1.3],[7247,1.05],[7252,1.15],[7256,1.0],[7260,1.2],[7264,1.0],[7270,1.02],[7278,0.98],[7284,1.03],[7287,1.5],[7289,2.8],[7292,2.8],[7294,1.3],[7298,1.02],[7304,1.0],[7310,1.03],[7316,1.0],[7320,1.5],[7322,2.8],[7326,2.8],[7329,1.55],[7332,1.7],[7334,2.8],[7338,2.8],[7341,1.2],[7345,1.02],[7355,1.0],[7365,1.03],[7375,1.0],[7385,1.04],[7395,0.98],[7405,1.02],[7412,0.96],[7418,0.62],[7422,1.02],[7430,0.98],[7438,1.03],[7444,0.95],[7447,0.37],[7450,1.02],[7460,1.0],[7468,1.05],[7474,1.25],[7478,1.02],[7486,1.0],[7491,0.95],[7494,0.46],[7497,1.0],[7505,1.04],[7515,1.02],[7525,1.05],[7535,1.0],[7545,0.98],[7549,0.72],[7553,1.0],[7562,1.02],[7572,0.99],[7584,1.02],[7588,1.02],[7593,0.79],[7598,0.55],[7602,0.31],[7605,0.23],[7609,0.31],[7613,0.55],[7618,0.75],[7622,0.69],[7626,0.52],[7633,0.5],[7642,0.57],[7655,0.69],[7673,0.81],[7691,0.9],[7709,0.97],[7713,1.15],[7716,1.0],[7730,1.0],[7745,1.03],[7754,1.02],[7756,2.8],[7762,2.8],[7764,1.02],[7770,1.0],[7780,1.03],[7790,0.98],[7800,1.02],[7810,1.0],[7820,1.05],[7824,1.15],[7828,1.02],[7835,0.85],[7840,1.0],[7850,1.02],[7860,0.98],[7866,1.02],[7868,2.8],[7871,1.02],[7880,1.0],[7890,1.03],[7900,0.99],[7910,1.02],[7920,0.97],[7930,1.02],[7940,1.0],[7950,1.03],[7960,0.98],[7970,1.02],[7980,1.0],[7990,1.03],[8000,0.98],[8010,1.02],[8020,1.0],[8030,1.02],[8040,0.99],[8046,1.02],[8048,2.8],[8051,1.05],[8055,0.98],[8065,1.03],[8075,1.0],[8085,1.04],[8095,1.06],[8105,1.02],[8115,1.0],[8125,1.03],[8135,0.99],[8145,1.02],[8155,1.0],[8163,1.05],[8170,1.03]];
const J052915_red = [[8226,1.6],[8229,1.15],[8234,1.35],[8238,1.0],[8243,1.2],[8248,1.0],[8251,1.45],[8255,1.05],[8259,0.95],[8262,0.55],[8266,1.0],[8272,0.9],[8278,1.1],[8284,0.95],[8290,1.15],[8295,0.97],[8300,1.25],[8305,0.95],[8310,1.3],[8314,0.93],[8318,1.45],[8322,0.92],[8326,1.7],[8330,0.95],[8334,1.6],[8338,0.9],[8343,2.13],[8347,0.95],[8352,2.3],[8356,1.0],[8360,1.2],[8365,2.8],[8369,1.0],[8374,1.1],[8378,1.0],[8383,2.8],[8387,1.05],[8392,1.0],[8396,2.8],[8400,1.1],[8406,0.95],[8412,1.1],[8418,1.2],[8423,2.8],[8427,1.05],[8434,0.95],[8440,1.1],[8444,1.5],[8447,2.8],[8451,1.6],[8454,2.8],[8458,1.2],[8463,0.85],[8468,0.42],[8470,1.0],[8472,0.09],[8475,1.0],[8482,0.95],[8490,1.4],[8495,1.0],[8502,1.1],[8507,1.3],[8512,2.8],[8516,1.1],[8522,1.05],[8530,1.12],[8538,1.0],[8546,1.1],[8552,2.8],[8556,1.05],[8562,1.0],[8570,1.05],[8578,1.0],[8585,1.25],[8590,1.75],[8593,1.3],[8596,2.8],[8600,1.6],[8603,1.4],[8608,2.8],[8612,1.1],[8618,0.95],[8628,0.9],[8638,0.88],[8648,0.9],[8658,0.87],[8665,0.95],[8669,1.4],[8672,2.8],[8676,1.3],[8680,1.0],[8686,1.1],[8690,0.8],[8694,0.04],[8698,0.9],[8703,1.2],[8708,1.1],[8712,2.8],[8716,1.1],[8722,0.95],[8728,1.25],[8734,0.95],[8740,1.1],[8746,0.85],[8752,1.05],[8756,2.8],[8760,1.0],[8765,0.9],[8769,0.4],[8773,1.05],[8780,1.2],[8786,0.9],[8792,1.4],[8797,1.0],[8803,0.85],[8808,1.1],[8814,0.9],[8820,1.3],[8826,0.9],[8832,1.15],[8838,0.8],[8844,1.2],[8850,0.9],[8856,1.1],[8862,1.5],[8867,2.8],[8871,1.2],[8876,0.8],[8882,1.4],[8886,0.85],[8890,0.3],[8893,0.04],[8897,1.0],[8903,1.2],[8909,0.8],[8914,1.0],[8920,1.8],[8924,0.9],[8928,0.4],[8932,1.1],[8938,0.9],[8944,1.2],[8950,0.85],[8956,1.0],[8960,1.5],[8964,2.8],[8968,1.2],[8973,0.65],[8977,1.0],[8984,0.9],[8990,1.1],[8996,0.95],[9003,1.05],[9010,0.9],[9016,1.15],[9022,2.8],[9026,1.2],[9030,0.85],[9036,1.0],[9043,0.95],[9050,1.05],[9057,0.9],[9063,1.2],[9067,1.8],[9071,2.8],[9076,2.8],[9080,1.5],[9084,2.8],[9088,1.2],[9093,0.95],[9098,0.42],[9102,1.0],[9108,1.1],[9114,1.3],[9120,0.9],[9126,1.1],[9131,1.2],[9136,0.7],[9142,0.04],[9146,1.0],[9150,1.0]];

// J053348
const J053348_blue = [[6195,1.0],[6210,1.02],[6225,0.99],[6240,1.01],[6252,1.03],[6258,1.15],[6262,1.38],[6266,1.1],[6272,1.0],[6285,0.98],[6297,1.05],[6302,1.2],[6305,1.38],[6309,1.05],[6318,0.98],[6330,1.0],[6345,1.01],[6358,1.0],[6365,1.1],[6369,1.15],[6373,1.02],[6385,0.99],[6400,1.01],[6415,0.98],[6430,1.0],[6445,0.99],[6458,1.02],[6463,1.15],[6466,1.24],[6470,1.03],[6480,1.0],[6495,0.99],[6510,1.01],[6525,0.98],[6540,1.0],[6550,1.0],[6556,1.02],[6560,1.3],[6564,2.0],[6568,2.31],[6571,1.6],[6574,1.1],[6577,1.2],[6581,1.7],[6585,2.0],[6588,2.03],[6591,1.6],[6595,1.15],[6600,1.03],[6610,1.0],[6620,0.98],[6624,1.05],[6630,0.99],[6645,1.0],[6660,0.98],[6672,1.0],[6680,1.1],[6684,1.17],[6688,1.0],[6700,0.99],[6712,1.0],[6716,1.08],[6720,1.15],[6724,1.2],[6728,1.02],[6735,1.05],[6745,0.99],[6760,1.01],[6775,0.99],[6790,1.0],[6805,1.04],[6808,1.12],[6812,1.0],[6825,0.99],[6840,1.01],[6855,0.99],[6862,0.98],[6866,0.84],[6870,0.69],[6874,0.75],[6879,0.82],[6884,0.87],[6893,0.9],[6910,0.94],[6925,0.98],[6940,1.0],[6955,1.02],[6970,0.99],[6985,1.01],[7000,0.99],[7015,1.02],[7030,0.99],[7045,1.01],[7060,1.02],[7066,1.15],[7070,1.5],[7074,1.75],[7078,1.2],[7082,1.0],[7095,0.98],[7110,1.01],[7125,0.97],[7130,0.95]];
const J053348_mid = [[7207,0.04],[7209,0.95],[7214,1.0],[7220,1.02],[7226,1.05],[7229,1.3],[7232,2.0],[7235,2.4],[7238,2.45],[7241,2.4],[7244,1.8],[7247,1.1],[7252,1.0],[7258,1.02],[7265,0.97],[7272,1.03],[7280,0.98],[7286,1.1],[7289,1.18],[7292,1.0],[7300,0.98],[7308,0.96],[7314,0.95],[7322,0.99],[7330,1.0],[7336,1.1],[7342,1.02],[7350,1.0],[7365,1.02],[7380,0.99],[7395,1.01],[7410,0.98],[7425,1.0],[7440,0.99],[7455,1.02],[7470,0.99],[7485,1.01],[7500,1.0],[7508,1.1],[7513,1.15],[7518,1.2],[7522,1.02],[7535,1.0],[7550,1.01],[7565,0.99],[7584,1.0],[7588,1.0],[7593,0.77],[7598,0.54],[7602,0.3],[7605,0.23],[7609,0.3],[7613,0.54],[7618,0.74],[7622,0.68],[7626,0.51],[7633,0.49],[7642,0.56],[7655,0.68],[7673,0.79],[7691,0.88],[7709,0.95],[7720,1.0],[7730,0.97],[7740,1.03],[7746,1.0],[7749,0.6],[7752,1.15],[7758,1.0],[7765,1.05],[7772,0.97],[7780,1.08],[7788,0.98],[7795,1.05],[7802,0.95],[7810,1.05],[7816,1.0],[7820,0.58],[7824,1.08],[7830,0.97],[7838,1.1],[7845,0.98],[7852,1.05],[7860,0.96],[7868,1.08],[7876,0.98],[7884,1.05],[7892,0.96],[7900,1.06],[7908,0.98],[7916,1.1],[7922,1.15],[7928,0.98],[7936,1.05],[7944,0.95],[7952,1.03],[7960,0.98],[7968,1.03],[7976,0.97],[7984,1.02],[7990,0.98],[7993,0.45],[7996,0.98],[8005,1.02],[8015,0.97],[8025,1.03],[8035,0.98],[8045,1.02],[8055,0.97],[8065,1.03],[8075,0.98],[8085,1.02],[8095,0.97],[8105,1.03],[8115,0.98],[8125,1.02],[8135,0.96],[8145,1.03],[8155,0.97],[8163,1.0],[8170,0.88]];
const J053348_red = [[8226,0.75],[8230,0.9],[8236,1.05],[8244,1.1],[8250,1.03],[8256,1.07],[8262,0.98],[8268,1.05],[8273,0.85],[8278,1.1],[8281,0.55],[8285,1.0],[8290,1.15],[8295,0.8],[8300,1.1],[8305,0.95],[8310,1.2],[8315,0.85],[8320,1.1],[8326,0.9],[8332,1.15],[8338,0.95],[8343,1.55],[8346,1.0],[8350,0.7],[8355,1.1],[8360,0.85],[8365,1.2],[8370,0.8],[8375,1.15],[8380,0.85],[8385,1.2],[8390,0.9],[8396,0.58],[8400,1.1],[8406,0.9],[8412,1.2],[8419,1.2],[8424,0.9],[8427,0.45],[8431,1.05],[8436,0.95],[8442,1.15],[8447,1.3],[8450,1.52],[8453,1.1],[8456,0.75],[8460,1.15],[8466,0.95],[8472,1.1],[8478,0.95],[8484,1.05],[8492,0.99],[8500,1.02],[8510,0.98],[8520,1.03],[8530,0.99],[8540,1.02],[8550,0.98],[8560,1.01],[8570,0.98],[8580,1.02],[8590,0.98],[8600,1.01],[8610,0.99],[8620,1.02],[8630,0.97],[8640,0.99],[8650,0.95],[8660,0.98],[8670,1.02],[8678,1.05],[8684,1.3],[8688,1.55],[8692,1.85],[8696,1.2],[8702,1.0],[8710,1.02],[8720,0.98],[8730,1.0],[8740,0.97],[8748,0.95],[8752,0.6],[8756,0.3],[8758,0.13],[8762,0.8],[8766,0.9],[8769,0.3],[8772,1.0],[8778,1.2],[8784,1.0],[8787,1.3],[8792,0.95],[8798,1.25],[8805,1.38],[8810,0.9],[8816,1.2],[8822,1.66],[8827,0.95],[8831,0.6],[8836,1.0],[8842,1.15],[8848,0.9],[8854,1.1],[8860,0.85],[8867,1.3],[8872,0.95],[8878,0.75],[8882,0.5],[8886,0.04],[8890,1.0],[8896,1.15],[8902,0.9],[8908,1.2],[8914,0.85],[8918,0.04],[8920,1.0],[8922,1.5],[8926,1.0],[8932,1.1],[8938,0.9],[8944,1.2],[8950,0.95],[8954,0.5],[8957,0.04],[8960,0.95],[8964,1.5],[8968,1.05],[8975,0.95],[8982,0.85],[8987,0.55],[8992,0.8],[8998,0.9],[9005,1.0],[9012,0.95],[9018,1.05],[9025,1.0],[9032,1.1],[9040,1.0],[9047,1.15],[9054,1.05],[9062,1.1],[9068,1.0],[9071,1.2],[9075,1.05],[9082,0.95],[9090,1.1],[9096,1.05],[9102,1.45],[9106,1.05],[9112,1.2],[9118,1.05],[9125,0.95],[9132,1.1],[9140,1.05],[9150,1.1]];

// J054055
const J054055_blue = [[6195,1.0],[6210,1.01],[6225,0.99],[6240,1.01],[6255,0.99],[6270,1.0],[6285,0.99],[6300,1.01],[6315,0.99],[6330,1.0],[6345,1.01],[6352,1.05],[6356,1.12],[6360,1.02],[6375,1.0],[6390,1.01],[6405,0.99],[6420,1.0],[6435,0.99],[6450,1.01],[6465,0.99],[6480,1.0],[6495,0.99],[6510,1.01],[6525,0.99],[6540,1.0],[6545,1.05],[6548,1.6],[6550,2.8],[6554,2.8],[6557,1.5],[6560,1.28],[6563,1.8],[6565,2.8],[6571,2.8],[6574,1.6],[6578,1.19],[6582,1.7],[6584,2.8],[6593,2.8],[6596,1.5],[6600,1.1],[6608,1.02],[6620,1.0],[6635,1.01],[6650,0.99],[6665,1.0],[6676,0.98],[6682,0.88],[6686,0.96],[6695,1.0],[6710,1.01],[6716,1.05],[6719,1.3],[6722,1.38],[6725,1.1],[6729,1.2],[6733,1.6],[6736,1.65],[6739,1.2],[6743,1.02],[6755,1.0],[6770,1.01],[6785,0.99],[6800,1.0],[6815,1.01],[6830,0.99],[6845,1.0],[6858,0.99],[6862,0.96],[6866,0.82],[6870,0.65],[6874,0.72],[6879,0.8],[6884,0.86],[6893,0.9],[6908,0.93],[6923,0.96],[6938,0.98],[6950,1.0],[6965,0.99],[6980,1.01],[6995,0.99],[7010,1.0],[7025,0.99],[7040,1.01],[7055,0.99],[7070,1.02],[7085,0.99],[7100,1.01],[7115,0.99],[7130,0.98]];
const J054055_mid = [[7207,1.0],[7212,0.96],[7218,1.02],[7224,0.92],[7230,1.0],[7236,0.9],[7242,0.98],[7248,0.93],[7254,1.0],[7260,0.92],[7266,0.99],[7272,0.9],[7278,0.98],[7284,0.93],[7290,1.01],[7296,0.95],[7302,1.0],[7310,0.96],[7318,1.01],[7326,0.98],[7334,1.02],[7345,1.0],[7358,1.03],[7370,0.99],[7385,1.01],[7400,0.99],[7415,1.0],[7430,0.98],[7445,1.01],[7460,0.99],[7475,1.0],[7490,0.98],[7505,1.01],[7520,0.99],[7535,1.0],[7550,0.99],[7565,1.01],[7584,1.0],[7588,1.0],[7593,0.77],[7598,0.54],[7602,0.3],[7605,0.23],[7609,0.3],[7613,0.54],[7618,0.74],[7622,0.68],[7626,0.51],[7633,0.49],[7642,0.56],[7655,0.68],[7673,0.79],[7691,0.88],[7709,0.95],[7735,0.98],[7750,1.0],[7765,0.99],[7780,1.01],[7795,0.99],[7810,1.0],[7825,0.98],[7840,1.01],[7855,0.99],[7870,1.0],[7885,0.99],[7900,1.01],[7915,0.98],[7930,1.02],[7945,0.99],[7960,1.0],[7975,0.98],[7990,1.01],[8005,0.99],[8020,1.0],[8035,0.98],[8050,1.01],[8065,0.99],[8080,1.02],[8095,0.99],[8110,1.0],[8125,0.98],[8140,1.01],[8150,0.97],[8160,1.02],[8165,0.95],[8170,1.18]];
const J054055_red = [[8226,0.68],[8229,0.92],[8234,1.05],[8240,0.98],[8246,1.08],[8252,1.0],[8258,1.05],[8264,0.95],[8270,1.02],[8278,0.97],[8286,1.03],[8294,0.96],[8302,1.02],[8310,0.98],[8318,1.02],[8326,0.97],[8334,1.03],[8342,0.98],[8350,1.02],[8358,0.97],[8366,1.03],[8374,0.98],[8382,1.05],[8390,0.98],[8398,1.03],[8406,0.97],[8414,1.02],[8422,0.98],[8430,1.03],[8438,0.98],[8446,1.02],[8450,1.15],[8454,1.4],[8458,1.08],[8466,1.02],[8475,0.98],[8485,1.03],[8495,0.99],[8505,1.02],[8515,0.97],[8525,1.03],[8535,0.98],[8545,1.02],[8555,0.98],[8565,1.03],[8575,0.99],[8585,1.02],[8595,0.98],[8605,1.03],[8615,0.99],[8623,1.15],[8630,1.0],[8640,0.98],[8650,1.02],[8660,0.97],[8670,1.01],[8680,0.98],[8690,1.02],[8700,0.99],[8710,1.01],[8718,0.98],[8722,1.12],[8726,0.98],[8735,1.02],[8745,0.99],[8755,1.03],[8760,1.08],[8765,1.0],[8775,1.04],[8785,0.99],[8795,1.03],[8805,0.98],[8815,1.04],[8822,1.12],[8830,1.0],[8840,1.02],[8850,0.98],[8860,1.03],[8867,1.1],[8874,0.98],[8882,1.05],[8890,1.0],[8897,1.04],[8904,0.98],[8910,1.05],[8916,1.14],[8923,1.02],[8932,1.05],[8940,0.98],[8948,0.95],[8955,0.88],[8962,0.92],[8970,0.85],[8978,0.9],[8984,0.7],[8987,0.65],[8992,0.85],[9000,0.9],[9008,0.88],[9015,0.98],[9022,0.93],[9030,1.0],[9038,1.05],[9045,1.0],[9052,1.08],[9060,1.0],[9068,0.98],[9072,1.2],[9075,2.02],[9079,1.5],[9083,1.0],[9090,0.98],[9098,1.03],[9105,0.99],[9112,1.02],[9120,0.97],[9128,1.03],[9135,0.98],[9142,1.02],[9150,1.05]];

// J055825
const J055825_blue = [[6195,1.0],[6210,1.01],[6225,0.99],[6240,1.01],[6252,1.0],[6258,1.08],[6263,1.2],[6268,1.02],[6278,0.98],[6290,1.0],[6300,1.02],[6306,1.1],[6310,1.0],[6322,0.99],[6335,1.01],[6350,0.99],[6365,1.02],[6380,0.99],[6395,1.01],[6410,0.99],[6425,1.0],[6440,0.98],[6455,1.01],[6470,0.99],[6485,1.0],[6500,0.99],[6515,1.01],[6530,0.99],[6545,1.01],[6555,1.05],[6560,1.3],[6564,1.42],[6568,1.2],[6572,1.05],[6577,1.1],[6581,1.4],[6586,1.45],[6590,1.3],[6594,1.05],[6600,0.98],[6612,1.01],[6625,0.99],[6640,1.01],[6655,0.98],[6670,1.0],[6685,0.98],[6700,1.0],[6715,0.99],[6730,1.01],[6745,0.99],[6760,1.0],[6775,0.97],[6790,1.01],[6805,0.99],[6820,1.01],[6835,0.99],[6850,1.0],[6862,0.99],[6866,0.84],[6870,0.67],[6874,0.74],[6879,0.82],[6884,0.87],[6893,0.9],[6908,0.93],[6923,0.96],[6938,0.98],[6950,1.0],[6965,0.98],[6980,1.01],[6995,0.99],[7010,1.01],[7025,0.99],[7040,1.0],[7055,1.01],[7066,1.05],[7070,1.2],[7074,1.39],[7078,1.1],[7085,1.0],[7100,0.99],[7115,1.01],[7130,0.99]];
const J055825_mid = [[7204,0.95],[7212,1.02],[7220,1.0],[7226,1.05],[7229,1.4],[7231,1.8],[7234,1.95],[7237,1.9],[7240,1.93],[7243,1.4],[7246,1.05],[7252,1.0],[7260,1.03],[7270,0.99],[7280,1.02],[7290,0.98],[7300,1.01],[7310,0.99],[7320,1.01],[7330,0.99],[7340,1.02],[7355,0.99],[7370,1.01],[7385,0.98],[7400,1.01],[7415,0.99],[7430,1.01],[7445,0.99],[7460,1.01],[7475,0.98],[7490,1.01],[7505,0.99],[7512,1.04],[7520,1.0],[7535,1.01],[7550,0.99],[7565,1.01],[7584,1.0],[7588,1.0],[7593,0.77],[7598,0.54],[7602,0.3],[7605,0.23],[7609,0.3],[7613,0.54],[7618,0.74],[7622,0.68],[7626,0.51],[7633,0.49],[7642,0.56],[7655,0.68],[7673,0.79],[7691,0.88],[7709,0.95],[7735,0.98],[7750,1.0],[7765,0.99],[7775,0.96],[7785,1.0],[7800,1.01],[7815,0.99],[7830,1.01],[7845,0.99],[7860,1.02],[7875,0.99],[7890,1.01],[7905,0.98],[7920,1.01],[7935,0.99],[7950,1.01],[7965,0.98],[7980,1.01],[7993,0.96],[8005,1.0],[8020,0.98],[8035,1.01],[8050,0.99],[8065,1.01],[8080,0.98],[8095,1.01],[8110,0.99],[8125,1.01],[8140,0.98],[8155,1.01],[8170,0.99]];
const J055825_red = [[8226,0.95],[8232,1.02],[8240,0.98],[8250,1.02],[8260,0.99],[8270,1.01],[8280,0.98],[8290,1.02],[8300,0.99],[8310,1.01],[8320,0.98],[8330,1.02],[8340,0.99],[8350,1.03],[8360,0.98],[8370,1.02],[8380,0.99],[8390,1.03],[8396,1.2],[8400,0.99],[8410,1.02],[8420,0.98],[8430,1.03],[8440,1.0],[8450,1.17],[8455,1.02],[8465,1.0],[8475,0.98],[8485,1.02],[8495,0.99],[8505,1.01],[8515,0.98],[8525,1.02],[8535,0.99],[8545,1.01],[8555,0.98],[8565,1.02],[8575,0.98],[8585,1.01],[8595,0.97],[8605,1.01],[8615,0.98],[8625,1.01],[8635,0.98],[8645,1.0],[8655,0.98],[8665,1.0],[8675,1.02],[8684,1.2],[8688,1.45],[8692,1.56],[8696,1.2],[8700,1.05],[8706,1.15],[8710,1.0],[8715,1.1],[8720,1.45],[8724,1.1],[8730,0.98],[8738,1.05],[8745,0.95],[8752,1.08],[8760,0.98],[8768,1.05],[8775,0.95],[8782,1.08],[8790,0.97],[8800,1.05],[8810,0.98],[8820,1.02],[8830,0.97],[8840,1.05],[8850,0.96],[8858,1.1],[8863,1.18],[8868,1.0],[8874,0.95],[8880,1.1],[8885,1.3],[8890,1.05],[8896,0.95],[8902,1.08],[8910,0.93],[8918,1.05],[8925,0.92],[8932,1.0],[8940,0.96],[8948,0.92],[8956,0.97],[8964,0.93],[8972,0.98],[8980,0.92],[8987,0.94],[8995,0.99],[9003,0.95],[9010,1.0],[9018,0.96],[9025,1.02],[9032,0.97],[9040,1.05],[9048,0.98],[9055,1.02],[9062,0.96],[9070,1.05],[9078,0.98],[9086,1.08],[9092,1.02],[9098,1.1],[9102,1.2],[9106,1.05],[9112,0.98],[9120,1.05],[9128,0.95],[9136,1.0],[9142,0.92],[9150,1.0]];

const spectra = [
  [J004747_blue, J004747_mid, J004747_red],
  [J004841_blue, J004841_mid, J004841_red],
  [J011542_blue, J011542_mid, J011542_red],
  [J045747_blue, J045747_mid, J045747_red],
  [J045907_blue, J045907_mid, J045907_red],
  [J051228_blue, J051228_mid, J051228_red],
  [J052229_blue, J052229_mid, J052229_red],
  [J052915_blue, J052915_mid, J052915_red],
  [J053348_blue, J053348_mid, J053348_red],
  [J054055_blue, J054055_mid, J054055_red],
  [J055825_blue, J055825_mid, J055825_red]
];

// ---------------- BUILD ----------------
const FONT = 'Liberation Sans, Arial, Helvetica, sans-serif';
const N = names.length;
const PLOT_H = 991;         // px height of plotting area
const BAND_PX = 89.8;       // px per spectrum band
const h = BAND_PX / PLOT_H; // domain fraction per band
const bandRange = 2.5;
const topRange = 2.5 * (1 - 10 * h) / h;

function axId(k){ const n = k + 1; return n === 1 ? '' : String(n); }

const traces = [];
spectra.forEach((segs, k) => {
  const x = [], y = [];
  segs.forEach((s, i) => {
    if (i) { x.push(null); y.push(null); }
    s.forEach(p => { x.push(p[0]); y.push(p[1]); });
  });
  traces.push({
    type: 'scatter', mode: 'lines', x: x, y: y,
    xaxis: 'x', yaxis: 'y' + axId(k),
    line: {color: '#000', width: 1.4},
    hoverinfo: 'skip', showlegend: false, connectgaps: false
  });
});
// dummy trace for the top x axis
traces.push({type:'scatter', mode:'lines', x:[6200, 9150], y:[null, null], xaxis:'x2', yaxis:'y', hoverinfo:'skip', showlegend:false});

const layout = {
  width: 1200, height: 1160,
  margin: {l: 40, r: 52, t: 97, b: 72},
  paper_bgcolor: '#fff', plot_bgcolor: 'rgba(0,0,0,0)',
  font: {family: FONT, size: 21, color: '#000'},
  showlegend: false,
  xaxis: {
    range: [6200, 9150], anchor: 'free', position: 0,
    tickmode: 'array', tickvals: xTicks, ticktext: xTicks.map(String),
    ticks: 'inside', ticklen: 12, tickwidth: 1.5, tickcolor: '#000',
    ticklabelstandoff: 10,
    showgrid: false, zeroline: false, showline: false,
    tickfont: {family: FONT, size: 21, color: '#000'},
    title: {text: 'rest wavelength [Å]', font: {family: FONT, size: 22, color: '#000'}, standoff: 12}
  },
  xaxis2: {
    range: [6200, 9150], overlaying: 'x', side: 'top', anchor: 'free', position: 1,
    tickmode: 'array', tickvals: xTicks, ticktext: xTicks.map(String),
    ticks: 'inside', ticklen: 12, tickwidth: 1.5, tickcolor: '#000',
    ticklabelstandoff: 10,
    showgrid: false, zeroline: false, showline: false,
    tickfont: {family: FONT, size: 21, color: '#000'}
  },
  shapes: [],
  annotations: []
};

for (let k = 0; k < N; k++) {
  const lo = (10 - k) * h;
  const hi = k === 0 ? 1 : (11 - k) * h;
  layout['yaxis' + axId(k)] = {
    domain: [lo, hi], range: [0, k === 0 ? topRange : bandRange],
    anchor: 'x', side: 'right',
    tickmode: 'array', tickvals: rightTicks, ticktext: rightTickText,
    ticks: 'inside', ticklen: 12, tickwidth: 1.5, tickcolor: '#000',
    ticklabelstandoff: 8,
    showgrid: false, zeroline: false, showline: false, fixedrange: true,
    tickfont: {family: FONT, size: 21, color: '#000'}
  };
  layout.annotations.push({
    xref: 'x', yref: 'y' + axId(k), x: 6289, y: 0.53,
    text: names[k], showarrow: false, xanchor: 'left', yanchor: 'middle',
    font: {family: FONT, size: 22, color: '#000'}
  });
  if (hasNII[k]) {
    layout.annotations.push({
      xref: 'x', yref: 'y' + axId(k), x: 6522, y: 1.9,
      text: '[NII]', showarrow: false, textangle: -90, xanchor: 'center', yanchor: 'middle',
      font: {family: FONT, size: 20, color: '#000'}
    });
  }
}

// dotted line markers
dottedWave.forEach(w => layout.shapes.push({
  type: 'line', xref: 'x', yref: 'paper', x0: w, x1: w, y0: 0, y1: 1,
  line: {color: '#777', width: 1, dash: 'dot'}, layer: 'below'
}));
// frame
layout.shapes.push({type: 'rect', xref: 'paper', yref: 'paper', x0: 0, x1: 1, y0: 0, y1: 1,
  line: {color: '#000', width: 2}, layer: 'above'});

// top line identifications
lineLabelText.forEach((t, i) => layout.annotations.push({
  xref: 'x', yref: 'paper', x: lineLabelWave[i], y: (1088 - 55) / PLOT_H,
  text: t, showarrow: false, textangle: -90, xanchor: 'center', yanchor: 'bottom',
  font: {family: FONT, size: 21, color: '#000'}
}));
// telluric markers
telluricWave.forEach(w => layout.annotations.push({
  xref: 'x', yref: 'paper', x: w, y: (1088 - 105) / PLOT_H,
  text: '⊕', showarrow: false, xanchor: 'center', yanchor: 'middle',
  font: {family: 'DejaVu Sans, sans-serif', size: 22, color: '#000'}
}));
// y-axis title
layout.annotations.push({
  xref: 'paper', yref: 'paper', x: (18 - 40) / 1108, y: (1088 - 590) / PLOT_H,
  text: 'normalized flux', showarrow: false, textangle: -90, xanchor: 'center', yanchor: 'middle',
  font: {family: FONT, size: 22, color: '#000'}
});

Plotly.newPlot('chart', traces, layout, {displayModeBar: false, staticPlot: true});
</script>
</body>
</html>
